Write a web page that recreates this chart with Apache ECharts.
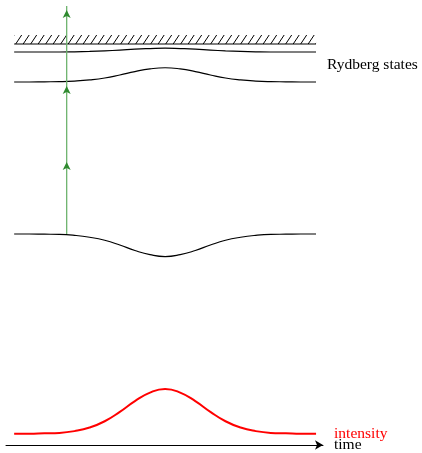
<!DOCTYPE html>
<html>
<head>
<meta charset="utf-8">
<script src="https://cdn.jsdelivr.net/npm/echarts@6/dist/echarts.min.js"></script>
<style>
html,body{margin:0;padding:0;background:#fff;}
#chart{width:422px;height:453px;}
</style>
</head>
<body>
<div id="chart"></div>
<script>
// time samples (arbitrary units, pulse centred at 0)
const times = [-5,-4.5,-4,-3.5,-3,-2.5,-2,-1.5,-1,-0.5,0,0.5,1,1.5,2,2.5,3,3.5,4,4.5,5];
// laser intensity (normalised)
const intensity = [0,0,0.01,0.02,0.06,0.14,0.28,0.49,0.73,0.92,1,0.92,0.73,0.49,0.28,0.14,0.06,0.02,0.01,0,0];
// energy levels (arbitrary units)
const groundLevel = [0,0,-0.01,-0.02,-0.07,-0.17,-0.33,-0.58,-0.87,-1.09,-1.19,-1.09,-0.87,-0.58,-0.33,-0.17,-0.07,-0.02,-0.01,0,0];
const rydbergLow = [8,8,8.01,8.02,8.05,8.11,8.21,8.37,8.55,8.69,8.75,8.69,8.55,8.37,8.21,8.11,8.05,8.02,8.01,8,8];
const rydbergHigh = [9.58,9.58,9.58,9.58,9.59,9.61,9.64,9.68,9.73,9.76,9.78,9.76,9.73,9.68,9.64,9.61,9.59,9.58,9.58,9.58,9.58];
const ionLimit = [10,10,10,10,10,10,10,10,10,10,10,10,10,10,10,10,10,10,10,10,10];
const hatchTop = 10.47;
// three-photon excitation
const photonTime = -3.26;
const photonLevels = [0,4,8,12];

const pair = (ys) => times.map((t,i) => [t, ys[i]]);

// hatch pattern (style only)
const pc = document.createElement('canvas');
pc.width = 30; pc.height = 45;
const ctx = pc.getContext('2d');
ctx.strokeStyle = '#000';
ctx.lineWidth = 1;
for (let o = -30; o <= 30; o += 7.5) {
  ctx.beginPath(); ctx.moveTo(o, 45); ctx.lineTo(o + 30, 0); ctx.stroke();
}

const serif = 'Liberation Serif';
const fs = 15.5;
const lvlStyle = {color:'#000', width:1.2};

const chart = echarts.init(document.getElementById('chart'), null, {renderer:'canvas'});
chart.setOption({
  animation:false,
  backgroundColor:'#fff',
  title:{
    text:'Rydberg states', left:327, top:57, padding:0,
    textStyle:{fontFamily:serif, fontSize:fs, fontWeight:'normal', color:'#000'}
  },
  grid:[
    {left:6, right:99, top:6, bottom:181},
    {left:6, right:99, top:389, bottom:7}
  ],
  xAxis:[
    {gridIndex:0, type:'value', min:-5.27, max:5.23, show:false},
    {gridIndex:1, type:'value', min:-5.27, max:5.23,
     axisLine:{show:true, onZero:false, lineStyle:{color:'#000', width:1}, symbol:['none','arrow'], symbolSize:[7,8]},
     axisTick:{show:false}, axisLabel:{show:false}, splitLine:{show:false},
     name:'time', nameLocation:'end', nameGap:11,
     nameTextStyle:{fontFamily:serif, fontSize:fs, color:'#000', padding:[3,0,0,0]}}
  ],
  yAxis:[
    {gridIndex:0, type:'value', min:-2, max:12, show:false},
    {gridIndex:1, type:'value', min:-0.25, max:1, show:false}
  ],
  series:[
    {type:'line', xAxisIndex:0, yAxisIndex:0, data:pair(ionLimit), symbol:'none', lineStyle:lvlStyle, z:2,
     markArea:{silent:true, itemStyle:{color:{image:pc, repeat:'repeat'}, opacity:1},
       data:[[{coord:[times[0], ionLimit[0]]}, {coord:[times[times.length-1], hatchTop]}]]}},
    {type:'line', xAxisIndex:0, yAxisIndex:0, data:pair(rydbergHigh), smooth:true, symbol:'none', lineStyle:lvlStyle, z:2},
    {type:'line', xAxisIndex:0, yAxisIndex:0, data:pair(rydbergLow), smooth:true, symbol:'none', lineStyle:lvlStyle, z:2},
    {type:'line', xAxisIndex:0, yAxisIndex:0, data:pair(groundLevel), smooth:true, symbol:'none', lineStyle:lvlStyle, z:2},
    {type:'line', xAxisIndex:0, yAxisIndex:0,
     data:photonLevels.map((e,i) => i === 0 ? {value:[photonTime,e], symbol:'none'} :
       {value:[photonTime,e], symbol:'arrow', symbolSize:[6,8], symbolOffset:[0,'50%']}),
     lineStyle:{color:'#6db36d', width:1.3}, itemStyle:{color:'#2f8a2f'}, z:5},
    {type:'line', xAxisIndex:1, yAxisIndex:1, data:pair(intensity), smooth:true, symbol:'none',
     lineStyle:{color:'#ff0000', width:2},
     endLabel:{show:true, formatter:'intensity', distance:18, fontFamily:serif, fontSize:fs, color:'#ff0000'}, z:3}
  ]
});
</script>
</body>
</html>
